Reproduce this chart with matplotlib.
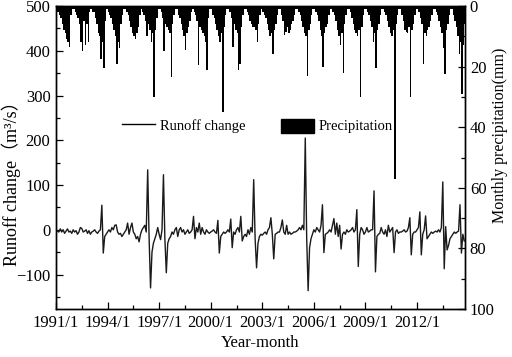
import matplotlib
matplotlib.use("Agg")
import matplotlib.pyplot as plt
from matplotlib.lines import Line2D
from matplotlib.patches import Patch
from matplotlib.ticker import MultipleLocator

# Monthly precipitation (mm), 1991/1 - 2014/10
precip = [
    1, 2, 3, 4, 6, 8, 9, 11, 12, 13.5, 3, 1,          # 1991
    1, 2, 3, 4, 6, 12, 15, 5, 13, 6, 12, 2,           # 1992
    1, 2, 2, 4, 6, 9, 10, 17.5, 12, 20.5, 5, 1,       # 1993
    2, 3, 4, 6, 8, 10, 19, 12, 14, 6, 3, 1,           # 1994
    1, 2, 3, 5, 7, 9, 10, 11, 9, 7, 3, 1,             # 1995
    2, 3, 5, 10, 6, 8, 12, 9, 30, 8, 4, 1,            # 1996
    1, 2, 4, 15, 6, 7, 8, 9, 23.5, 6, 3, 1,           # 1997
    1, 3, 4, 6, 8, 10, 14.5, 9, 7, 5, 2, 1,           # 1998
    2, 3, 5, 19.5, 7, 8, 9, 10, 12, 21, 4, 1,         # 1999
    1, 3, 4, 6, 8, 10, 12, 9, 35, 7, 3, 1,            # 2000
    1, 2, 4, 13.5, 6, 8, 9, 21, 19, 7, 3, 1,          # 2001
    1, 2, 3, 5, 6, 7, 7, 8, 12, 6, 3, 1,              # 2002
    2, 3, 4, 6, 8, 10, 9, 16, 8, 6, 3, 1,             # 2003
    1, 3, 5, 9.6, 8.5, 7, 9, 8, 6, 5, 3, 1,           # 2004
    1, 2, 3, 5, 7, 9, 10, 23, 8, 6, 3, 1,             # 2005
    1, 2, 3, 5, 8, 10, 20, 9, 7, 6, 3, 1,             # 2006
    1, 2, 3, 5, 8, 10, 13, 9, 22, 6, 3, 1,            # 2007
    1, 2, 4, 6, 8, 9, 10, 8, 30, 7, 3, 1,             # 2008
    1, 2, 3, 5, 7, 12, 9, 20.5, 8, 6, 3, 1,           # 2009
    1, 2, 3, 5, 7, 9, 10, 8, 57, 6, 3, 1,             # 2010
    1, 3, 5, 8, 8.5, 9, 7, 30, 8, 6, 3, 1,            # 2011
    1, 2, 4, 6, 19, 9, 10, 8, 7, 5, 3, 1,             # 2012
    1, 2, 3, 5, 7, 9, 14, 22.5, 8, 6, 3, 1,           # 2013
    1, 3, 5, 7, 10, 16, 12, 29, 13, 6,                # 2014
]

# Monthly runoff change (m3/s)
runoff = [
    0, -3, -5, 2, -5, 0, -8, -3, 2, -5, -3, -8,                 # 1991
    0, -5, -2, -10, -5, 5, 3, -5, -3, 0, -8, -2,                # 1992
    -10, -5, -3, 0, -5, -8, -3, 0, 55, -52, -15, -10,           # 1993
    -5, 0, -5, 5, 0, 10, 11, -5, -10, -8, -15, -10,             # 1994
    -5, 0, 15, -10, 5, 15, -5, -10, -20, -15, -27, -10,         # 1995
    0, 5, 10, -5, 134, -20, -130, -50, -30, -20, -10, 5,        # 1996
    -10, -22, 0, 123, -20, -96, -30, -20, -15, -5, -10, 0,      # 1997
    5, -15, 0, 5, -5, 0, -10, -5, 0, -8, -5, 0,                 # 1998
    30, -20, 5, -5, 15, -10, 5, -5, -10, 0, -5, -8,             # 1999
    -5, -3, 0, -5, -8, 21, -52, -15, -10, -5, -8, -5,           # 2000
    0, -5, 24, -40, -5, -10, 0, 5, -5, 30, -25, -15,            # 2001
    -10, -15, 0, -10, 5, -5, 112, -20, -85, -30, -15, -10,      # 2002
    -12, -8, -5, -10, 0, 5, 27, -10, -65, -10, -8, -5,          # 2003
    -5, 5, 22, -5, -10, 10, -10, -5, -10, -8, -5, -5,           # 2004
    -3, 0, 5, 0, 10, 0, 205, -20, -136, -40, -20, -10,          # 2005
    0, -5, 5, 0, -5, 10, 56, -51, -10, -8, -5, 0,               # 2006
    -5, 10, 25, -10, 15, -15, 10, -43, -10, -5, -10, 0,         # 2007
    -5, -3, 0, 5, -5, 0, 45, -82, -10, 5, 0, -10,               # 2008
    -5, 5, -5, -3, 0, 0, 87, -94, -15, -10, -8, 5,              # 2009
    -5, -10, 0, -15, 10, -5, 0, 5, -51, -5, 0, -8,              # 2010
    -5, -5, -3, 0, -5, -3, 5, 27, -56, -10, -5, -5,             # 2011
    0, 5, 40, -56, -10, 0, 31, -20, -15, -10, -5, -8,           # 2012
    -5, -3, -5, 0, -5, 5, 107, -87, 7, -45, -35, -20,           # 2013
    -15, -10, -5, -8, -5, -3, 56, -52, -10, -25,                # 2014
]

months = list(range(len(precip)))
tick_pos = [0, 36, 72, 108, 144, 180, 216, 252]
tick_labels = ["1991/1", "1994/1", "1997/1", "2000/1", "2003/1", "2006/1", "2009/1", "2012/1"]

serif = ["Liberation Serif", "Noto Sans CJK SC"]
plt.rcParams["font.family"] = serif
plt.rcParams["font.size"] = 12

fig = plt.figure(figsize=(5.12, 3.57), dpi=100)
ax = fig.add_axes([56/512, 1-309/357, (465-56)/512, (309-6)/357])
ax2 = ax.twinx()

ax2.bar(months, precip, width=1.0, color="black", edgecolor="none", align="edge")
ax2.set_ylim(100, 0)
ax.plot(months, runoff, color="#1a1a1a", lw=1.0)

ax.set_xlim(0, 285.5)
ax.set_ylim(-177, 500)
ax.set_xticks(tick_pos)
ax.set_xticklabels(tick_labels)
ax.xaxis.set_minor_locator(MultipleLocator(18))
ax.yaxis.set_major_locator(MultipleLocator(100))
ax.yaxis.set_minor_locator(MultipleLocator(50))
ax2.yaxis.set_major_locator(MultipleLocator(20))
ax2.yaxis.set_minor_locator(MultipleLocator(10))

for a in (ax, ax2):
    a.tick_params(which="major", direction="in", length=5, width=0.9)
    a.tick_params(which="minor", direction="in", length=3, width=0.9)
    for s in a.spines.values():
        s.set_linewidth(1.0)
ax.tick_params(axis="both", pad=4)

ax.set_xlabel("Year-month", labelpad=3)
ax.set_ylabel("Runoff change（m³/s）", fontsize=13)
ax.yaxis.set_label_coords(-0.086, 0.43)
ax2.set_ylabel("Monthly precipitation(mm)", fontsize=11.5)
ax2.yaxis.set_label_coords(1.066, 0.574)

ax.set_zorder(ax2.get_zorder() + 1)
ax.patch.set_visible(False)

handles = [Line2D([], [], color="black", lw=1.0), Patch(facecolor="black", edgecolor="black")]
ax.legend(handles, ["Runoff change", "Precipitation"], ncol=2, frameon=False,
          loc="center left", bbox_to_anchor=(0.130, 0.604), fontsize=10.5,
          handlelength=2.25, handleheight=1.1, columnspacing=2.4, handletextpad=0.35)

fig.savefig("out.png", dpi=100)
